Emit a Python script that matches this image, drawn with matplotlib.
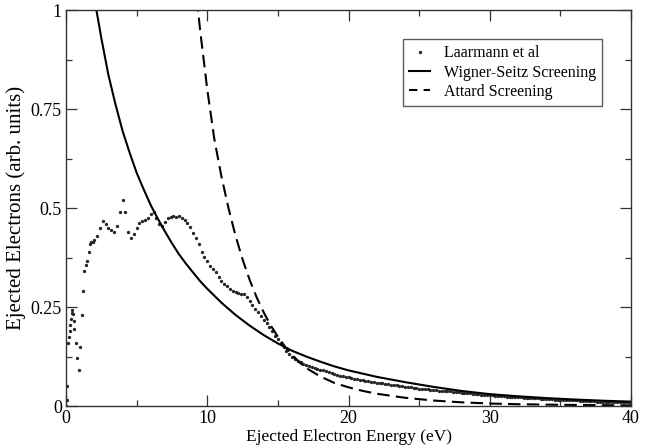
import numpy as np
import matplotlib
matplotlib.use("Agg")
import matplotlib.pyplot as plt
from matplotlib.ticker import MultipleLocator

plt.rcParams['font.family'] = ['Liberation Serif', 'DejaVu Serif']

e_exp = [0.0, 0.05, 0.1, 0.15, 0.2, 0.25, 0.3, 0.35, 0.4, 0.45, 0.5, 0.55, 0.6,
         0.7, 0.8, 0.9, 1.0, 1.1, 1.2, 1.3, 1.4,
         1.5, 1.6, 1.7, 1.8, 1.9] + [round(2.0 + 0.2 * i, 1) for i in range(191)]
y_exp = [0.0, 0.015, 0.05, 0.16, 0.175, 0.19, 0.205, 0.22, 0.235, 0.242, 0.232, 0.215, 0.195,
         0.16, 0.12, 0.09, 0.15, 0.23, 0.29, 0.34, 0.355,
         0.365, 0.39, 0.41, 0.415, 0.415,
         # 2.0 - 5.8
         0.42, 0.43, 0.45, 0.468, 0.46, 0.449, 0.445, 0.44, 0.455, 0.49,
         0.52, 0.49, 0.44, 0.425, 0.435, 0.45, 0.462, 0.467, 0.47, 0.476,
         # 6.0 - 9.8
         0.485, 0.49, 0.475, 0.46, 0.455, 0.465, 0.475, 0.478, 0.48, 0.478,
         0.48, 0.476, 0.47, 0.462, 0.452, 0.438, 0.425, 0.408, 0.39, 0.377,
         # 10.0 - 13.8
         0.366, 0.354, 0.346, 0.338, 0.326, 0.315, 0.308, 0.302, 0.296, 0.291,
         0.287, 0.285, 0.284, 0.282, 0.276, 0.266, 0.256, 0.246, 0.237, 0.228,
         # 14.0 - 17.8
         0.218, 0.209, 0.199, 0.189, 0.178, 0.168, 0.158, 0.148, 0.140, 0.132,
         0.125, 0.119, 0.114, 0.110, 0.107, 0.104, 0.101, 0.099, 0.096, 0.094,
         # 18.0 - 21.8
         0.092, 0.090, 0.088, 0.086, 0.084, 0.081, 0.079, 0.077, 0.075, 0.073,
         0.072, 0.071, 0.069, 0.068, 0.066, 0.065, 0.064, 0.062, 0.061, 0.060,
         # 22.0 - 25.8
         0.059, 0.058, 0.057, 0.056, 0.055, 0.054, 0.053, 0.052, 0.051, 0.050,
         0.049, 0.048, 0.047, 0.046, 0.045, 0.044, 0.044, 0.043, 0.042, 0.041,
         # 26.0 - 29.8
         0.041, 0.040, 0.039, 0.039, 0.038, 0.037, 0.037, 0.036, 0.035, 0.035,
         0.034, 0.033, 0.033, 0.032, 0.031, 0.031, 0.030, 0.029, 0.029, 0.028,
         # 30.0 - 33.8
         0.027, 0.027, 0.026, 0.026, 0.025, 0.025, 0.024, 0.024, 0.023, 0.023,
         0.022, 0.022, 0.021, 0.021, 0.020, 0.020, 0.019, 0.019, 0.018, 0.018,
         # 34.0 - 37.8
         0.017, 0.017, 0.017, 0.016, 0.016, 0.016, 0.015, 0.015, 0.015, 0.014,
         0.014, 0.014, 0.013, 0.013, 0.013, 0.012, 0.012, 0.012, 0.011, 0.011,
         # 38.0 - 40.0
         0.011, 0.011, 0.010, 0.010, 0.010, 0.010, 0.009, 0.009, 0.009, 0.009,
         0.008]

# Wigner-Seitz screening
e_ws = [2.1, 2.5, 3.0, 3.5, 4.0, 4.5, 5.0, 5.5, 6.0, 6.5, 7.0, 7.5, 8.0, 8.5, 9.0, 9.5, 10.0,
        11.0, 12.0, 13.0, 14.0, 15.0, 16.0, 17.0, 18.0, 19.0, 20.0, 22.0, 24.0, 26.0,
        28.0, 30.0, 32.0, 34.0, 36.0, 38.0, 40.0]
y_ws = [1.01, 0.929, 0.836, 0.762, 0.695, 0.640, 0.589, 0.547, 0.507, 0.473, 0.441, 0.411, 0.383,
        0.359, 0.337, 0.315, 0.296, 0.261, 0.230, 0.203, 0.179, 0.158, 0.1396, 0.125, 0.112, 0.100,
        0.090, 0.0736, 0.0603, 0.0484, 0.038, 0.030, 0.0245, 0.020, 0.0164, 0.0134, 0.011]

# Attard screening
e_at = [9.2, 9.5, 10.0, 10.5, 11.0, 11.5, 12.0, 12.5, 13.0, 13.5, 14.0, 14.5, 15.0, 15.5,
        16.0, 16.5, 17.0, 18.0, 19.0, 20.0, 21.0, 22.0, 24.0, 26.0, 28.0, 30.0, 32.0, 35.0, 40.0]
y_at = [1.049, 0.947, 0.799, 0.674, 0.580, 0.500, 0.430, 0.370, 0.3186, 0.274, 0.236, 0.203, 0.175,
        0.150, 0.1295, 0.111, 0.096, 0.0747, 0.0582, 0.0472, 0.0382, 0.031, 0.0208, 0.0139, 0.0093,
        0.0063, 0.0045, 0.003, 0.0015]

xticks = [0, 10, 20, 30, 40]
yticks = [0, 0.25, 0.5, 0.75, 1]
ytick_labels = ['0', '0.25', '0.5', '0.75', '1']

fig = plt.figure(figsize=(6.55, 4.47), dpi=100)
ax = fig.add_axes([0.1008, 0.0917, 0.8626, 0.8859])

ax.plot(e_exp, y_exp, linestyle='none', marker='o', ms=2.4, color='#262626',
        markeredgewidth=0, label='Laarmann et al')
ax.plot(e_ws, y_ws, '-', color='black', lw=1.5, label='Wigner-Seitz Screening')
ax.plot(e_at, y_at, '--', color='black', lw=1.5, dashes=(6, 3), label='Attard Screening')

ax.set_xlim(0, 40)
ax.set_ylim(0, 1)
ax.set_xticks(xticks)
ax.set_xticklabels([str(t) for t in xticks])
ax.set_yticks(yticks)
ax.set_yticklabels(ytick_labels)
ax.xaxis.set_minor_locator(MultipleLocator(5))
ax.yaxis.set_minor_locator(MultipleLocator(0.125))
ax.tick_params(which='both', direction='in', top=True, right=True, labelsize=13, width=0.9, color='#333333')
ax.tick_params(which='major', length=8)
ax.tick_params(which='minor', length=4)
ax.tick_params(axis='x', pad=3)
ax.tick_params(axis='y', pad=3)
for s in ax.spines.values():
    s.set_linewidth(1.0)
    s.set_color('#333333')

ax.set_xlabel('Ejected Electron Energy (eV)', fontsize=12.5, labelpad=1)
ax.set_ylabel('Ejected Electrons (arb. units)', fontsize=15, labelpad=3)

leg = ax.legend(loc='upper right', bbox_to_anchor=(0.949, 0.927), fontsize=11.5, frameon=True,
                fancybox=False, edgecolor='#333333', handlelength=1.3, handletextpad=0.85,
                borderpad=0.4, labelspacing=0.2, markerscale=1.0, borderaxespad=0)
leg.get_frame().set_linewidth(1.0)
leg.get_lines()[2].set_dashes((4, 3))

fig.savefig('out.png', dpi=100)
